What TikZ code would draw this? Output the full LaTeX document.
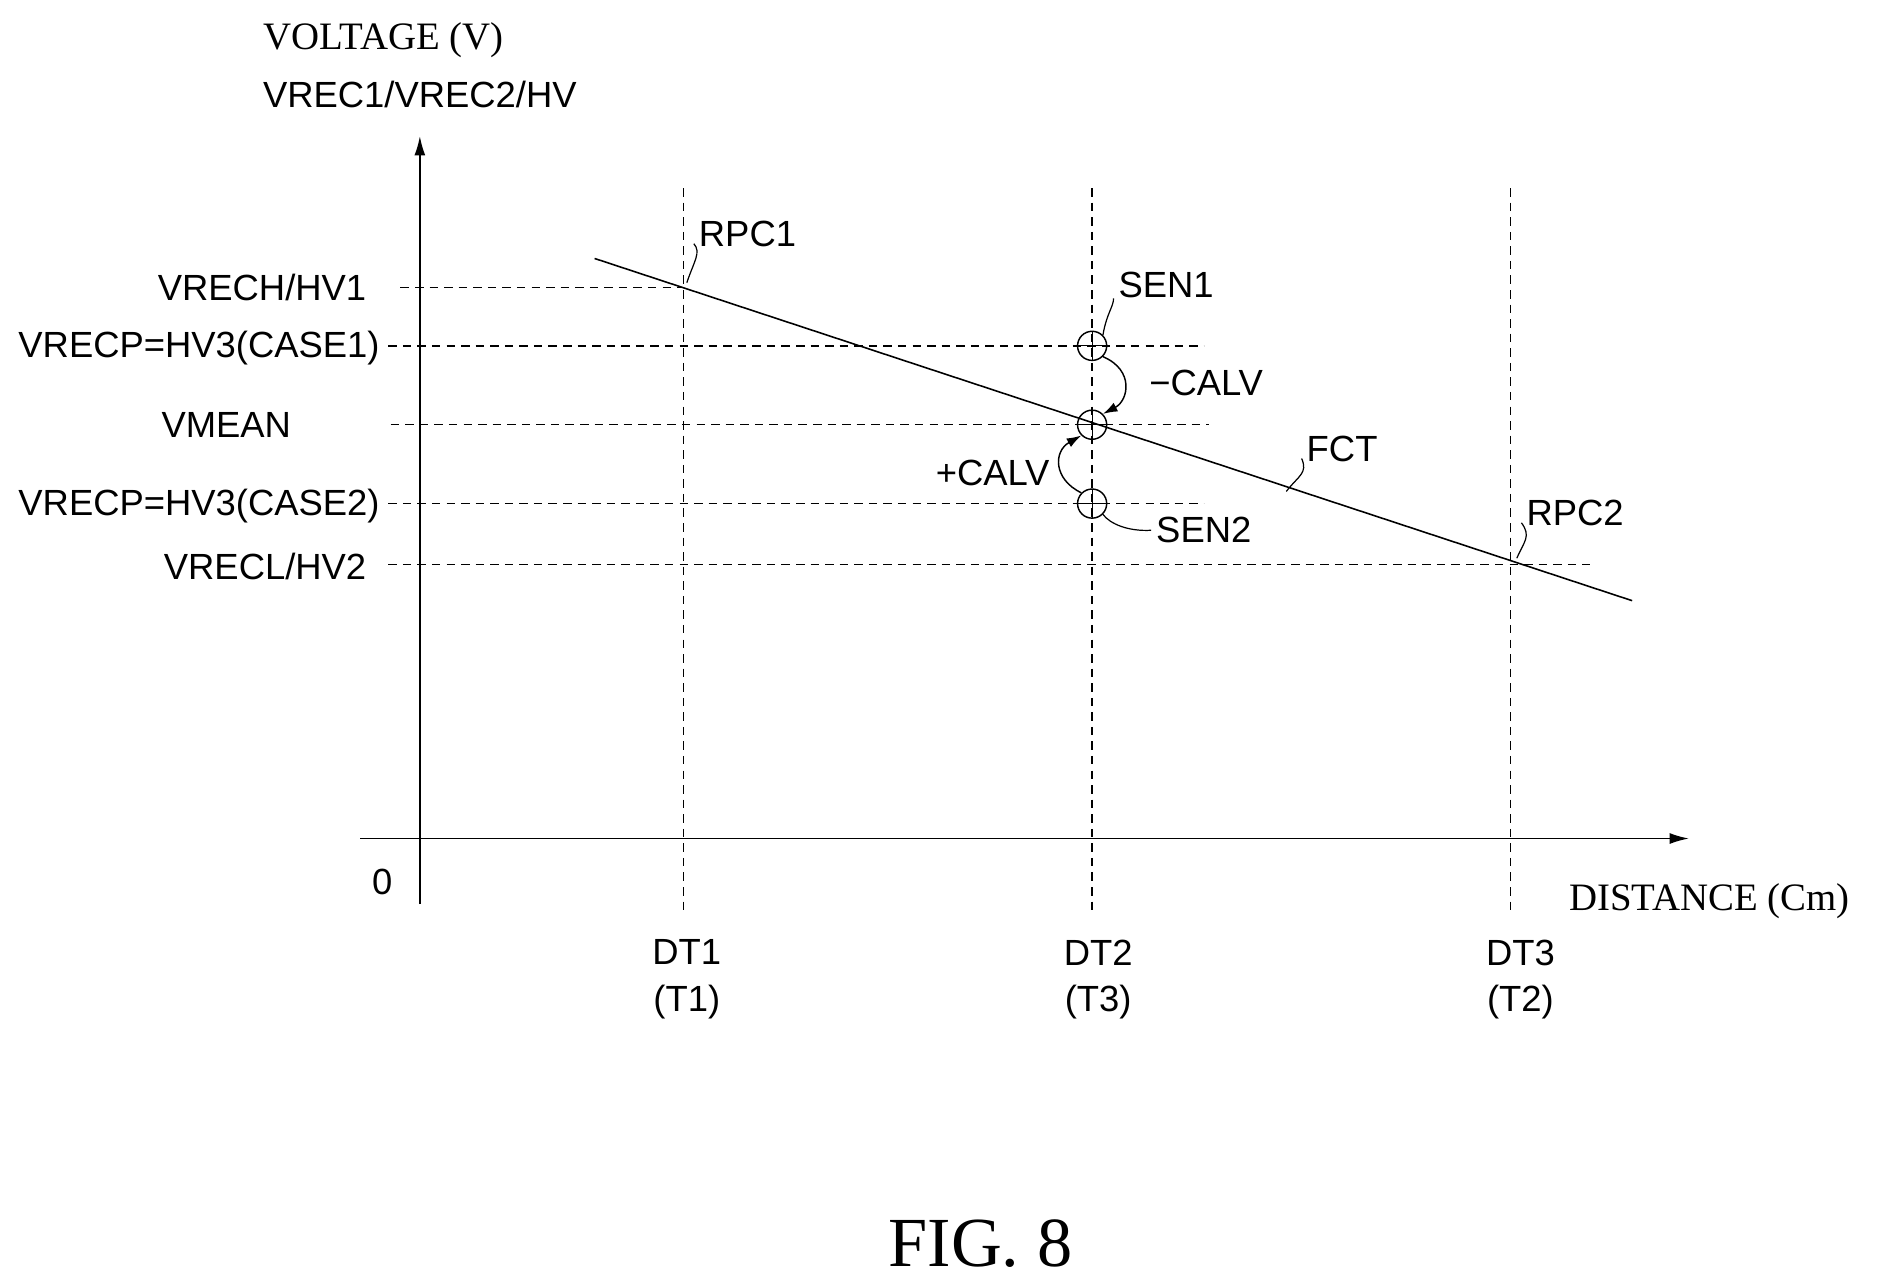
\documentclass[tikz,border=0pt]{standalone}
\usepackage{fontspec}
\setmainfont{Liberation Sans}
\newfontfamily\serif{Liberation Serif}
\usetikzlibrary{arrows.meta}
\begin{document}
\begin{tikzpicture}[x=1pt,y=-1pt,
  lab/.style={font=\fontsize{30}{30}\selectfont,inner sep=0pt},
  dsh/.style={dashed,dash pattern=on 7pt off 5pt,line width=1.1pt},
  ax/.style={line width=1.6pt,-{Latex[length=16pt,width=9pt]}},
  lead/.style={line width=1pt},
  mk/.style={circle,draw,line width=1.2pt,minimum size=24pt,inner sep=0pt}]
\useasboundingbox (0,0) rectangle (1560,1060);
% axes
\coordinate (yb) at (346,745); \coordinate (yt) at (346,112);
\coordinate (xl) at (297,691); \coordinate (xr) at (1392,691);
\draw[ax] (yb) -- (yt);
\draw[ax] (xl) -- (xr);
% vertical dashed
\foreach \x/\n in {563/1,900/2,1245/3}{
  \coordinate (vt\n) at (\x,155); \coordinate (vb\n) at (\x,752);
  \draw[dsh] (vt\n) -- (vb\n);}
% horizontal dashed
\coordinate (h1a) at (330,237); \coordinate (h1b) at (563,237);
\coordinate (h2a) at (320,285); \coordinate (h2b) at (992,285);
\coordinate (h3a) at (322,350); \coordinate (h3b) at (996,350);
\coordinate (h4a) at (320,415); \coordinate (h4b) at (992,415);
\coordinate (h5a) at (320,465); \coordinate (h5b) at (1310,465);
\foreach \i in {1,...,5}{\draw[dsh] (h\i a) -- (h\i b);}
% FCT line
\coordinate (f1) at (490,213); \coordinate (f2) at (1345,495);
\draw[line width=1.3pt] (f1) -- (f2);
% circles
\node[mk] (s1) at (900,285) {};
\node[mk] (s0) at (900,350) {};
\node[mk] (s2) at (900,415) {};
\draw[line width=0.9pt] (888,285) -- (912,285) (900,273) -- (900,297);
\draw[line width=0.9pt] (888,350) -- (912,350) (900,338) -- (900,362);
\draw[line width=0.9pt] (888,415) -- (912,415) (900,403) -- (900,427);
% curved arrows
\draw[line width=1.2pt,-{Latex[length=12pt,width=8pt]}] (s1.south east) .. controls (935,305) and (930,330) .. (s0.north east);
\draw[line width=1.2pt,-{Latex[length=12pt,width=8pt]}] (s2.north west) .. controls (868,395) and (868,372) .. (s0.south west);
% labels left
\node[lab,anchor=east] (l1) at (302,237) {VRECH/HV1};
\node[lab,anchor=east] (l2) at (313,287) {VRECP=HV3(CASE1)};
\node[lab,anchor=east] (l3) at (240,350) {VMEAN};
\node[lab,anchor=east] (l4) at (313,417) {VRECP=HV3(CASE2)};
\node[lab,anchor=east] (l5) at (302,467) {VRECL/HV2};
\node[lab] (zero) at (315,727) {0};
% titles
\node[font=\serif\fontsize{32}{32}\selectfont,inner sep=0pt] (t1) at (316,33) {VOLTAGE (V)};
\node[lab] (t2) at (346,78) {VREC1/VREC2/HV};
\node[font=\serif\fontsize{32}{32}\selectfont,inner sep=0pt,anchor=west] (t3) at (1293,743) {DISTANCE (Cm)};
\node[font=\serif\fontsize{58}{58}\selectfont,inner sep=0pt] (fig) at (808,1025) {FIG. 8};
% DT labels
\node[lab,align=center] (d1) at (566,807) {DT1\\[8pt](T1)};
\node[lab,align=center] (d2) at (905,807) {DT2\\[8pt](T3)};
\node[lab,align=center] (d3) at (1253,807) {DT3\\[8pt](T2)};
% point labels
\node[lab] (rpc1) at (616,193) {RPC1};
\node[lab] (sen1) at (961,235) {SEN1};
\node[lab] (calvm) at (994,316) {−CALV};
\node[lab] (calvp) at (818,390) {+CALV};
\node[lab] (sen2) at (992,437) {SEN2};
\node[lab] (fct) at (1106,370) {FCT};
\node[lab] (rpc2) at (1298,423) {RPC2};
% leaders
\draw[lead] (566,233) .. controls (572,215) and (578,208) .. ([xshift=-4pt,yshift=3pt]rpc1.south west);
\draw[lead] (s1.north east) .. controls (912,258) and (918,252) .. ([xshift=-4pt]sen1.south west);
\draw[lead] (s2.south east) .. controls (915,432) and (930,438) .. ([xshift=-4pt]sen2.west);
\draw[lead] (1060,405) .. controls (1070,392) and (1078,390) .. ([xshift=-4pt,yshift=3pt]fct.south west);
\draw[lead] (1250,460) .. controls (1256,446) and (1262,442) .. ([xshift=-4pt,yshift=3pt]rpc2.south west);
\end{tikzpicture}
\end{document}
